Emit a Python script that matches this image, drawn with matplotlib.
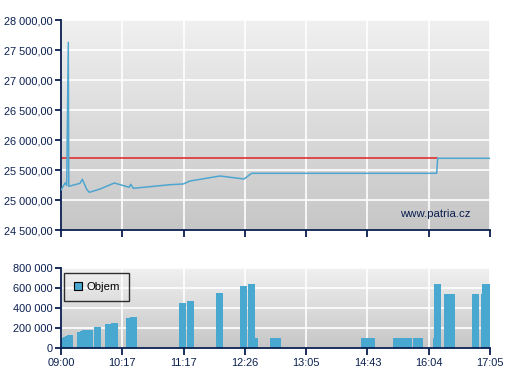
import numpy as np
import matplotlib
matplotlib.use('Agg')
import matplotlib.pyplot as plt
from matplotlib.colors import LinearSegmentedColormap

# x axis is in "tick units": 0 = 09:00 ... 7 = 17:05
tick_labels = ['09:00', '10:17', '11:17', '12:26', '13:05', '14:43', '16:04', '17:05']

# price line
price_x = [0.0, 0.070, 0.093, 0.119, 0.127, 0.310, 0.348, 0.419, 0.462, 0.636,
           0.870, 1.114, 1.137, 1.180, 1.778, 1.995, 2.105, 2.594, 2.986, 3.111,
           6.130, 6.146, 7.0]
price_y = [25167, 25288, 25245, 27628, 25228, 25278, 25345, 25178, 25128, 25183,
           25283, 25212, 25262, 25195, 25255, 25267, 25317, 25400, 25350, 25445,
           25445, 25695, 25695]
prev_close = 25695

# volume bars (left, right, volume)
vol_left = [0.0, 0.033, 0.065, 0.098, 0.261, 0.310, 0.343, 0.538, 0.718, 0.816,
            1.061, 1.126, 1.930, 2.056, 2.529, 2.921, 3.051, 3.160, 3.410, 4.895,
            5.417, 5.743, 6.069, 6.086, 6.249, 6.706, 6.853, 6.869]
vol_right = [0.033, 0.065, 0.098, 0.196, 0.310, 0.343, 0.522, 0.648, 0.816, 0.930,
             1.126, 1.235, 2.039, 2.170, 2.643, 3.030, 3.160, 3.214, 3.590, 5.123,
             5.727, 5.906, 6.086, 6.200, 6.429, 6.820, 6.869, 7.0]
vol = [105000, 115000, 125000, 130000, 157000, 173000, 180000, 210000, 240000, 250000,
       303000, 310000, 450000, 470000, 550000, 620000, 640000, 100000, 100000, 100000,
       100000, 100000, 100000, 640000, 540000, 540000, 540000, 640000]

navy = '#0a1f4f'
font = 'Liberation Sans'
plt.rcParams['font.family'] = [font, 'DejaVu Sans']
fsize = 7.9

def fmt_space(v, dec):
    s = f'{v:,.{dec}f}'.replace(',', ' ').replace('.', ',')
    return s

grad = LinearSegmentedColormap.from_list('g', ['#c6c6c6', '#f0f0f0'])

def style_axes(ax):
    ax.imshow(np.linspace(0, 1, 256)[:, None][::-1], extent=(0, 1, 0, 1),
              transform=ax.transAxes, aspect='auto', cmap=grad, zorder=0)
    ax.set_axisbelow(True)
    ax.grid(True, color='white', linewidth=1.2)
    for s in ['top', 'right']:
        ax.spines[s].set_visible(False)
    for s in ['left', 'bottom']:
        ax.spines[s].set_color(navy)
        ax.spines[s].set_linewidth(1.3)
    ax.tick_params(colors=navy, labelcolor=navy, width=1.3, length=4, labelsize=fsize)
    ax.tick_params(axis='y', pad=2)
    ax.set_xlim(0, 7)
    ax.set_xticks(range(8))

fig = plt.figure(figsize=(5.07, 3.80), dpi=100)

# price panel
ax1 = fig.add_axes([61 / 507, 1 - 230 / 380, 429 / 507, 210 / 380])
style_axes(ax1)
ax1.axhline(prev_close, xmin=0, xmax=6.14 / 7, color='#e02020', linewidth=1.1, zorder=2)
ax1.plot(price_x, price_y, color='#4ea6d0', linewidth=1.1, zorder=3)
ax1.set_ylim(24500, 28000)
yt = np.arange(24500, 28001, 500)
ax1.set_yticks(yt)
ax1.set_yticklabels([fmt_space(v, 2) for v in yt])
ax1.set_xticklabels([])
ax1.tick_params(axis='x', length=5)
ax1.text(0.955, 0.075, 'www.patria.cz', transform=ax1.transAxes, ha='right', va='center',
         color=navy, fontsize=fsize + 0.3)

# volume panel
ax2 = fig.add_axes([61 / 507, 1 - 348 / 380, 429 / 507, 80 / 380])
style_axes(ax2)
widths = [r - l for l, r in zip(vol_left, vol_right)]
ax2.bar(vol_left, vol, width=widths, align='edge', color='#48a8d0', linewidth=0,
        zorder=2, label='Objem')
ax2.set_ylim(0, 800000)
vt = np.arange(0, 800001, 200000)
ax2.set_yticks(vt)
ax2.set_yticklabels([fmt_space(v, 0) for v in vt])
ax2.set_xticklabels(tick_labels)
ax2.tick_params(axis='x', length=5, pad=2)
leg = ax2.legend(loc='upper left', bbox_to_anchor=(0.008, 0.94), frameon=True,
                 fancybox=False, fontsize=fsize + 0.3, handlelength=0.7, handleheight=0.7,
                 borderpad=0.8, handletextpad=0.4, borderaxespad=0)
leg.get_frame().set_edgecolor('black')
leg.get_frame().set_linewidth(1.0)
leg.get_frame().set_facecolor('none')
for h in leg.legend_handles:
    h.set_edgecolor('black')
    h.set_linewidth(0.8)
for t in leg.get_texts():
    t.set_color('black')

fig.savefig('out.png', dpi=100)
